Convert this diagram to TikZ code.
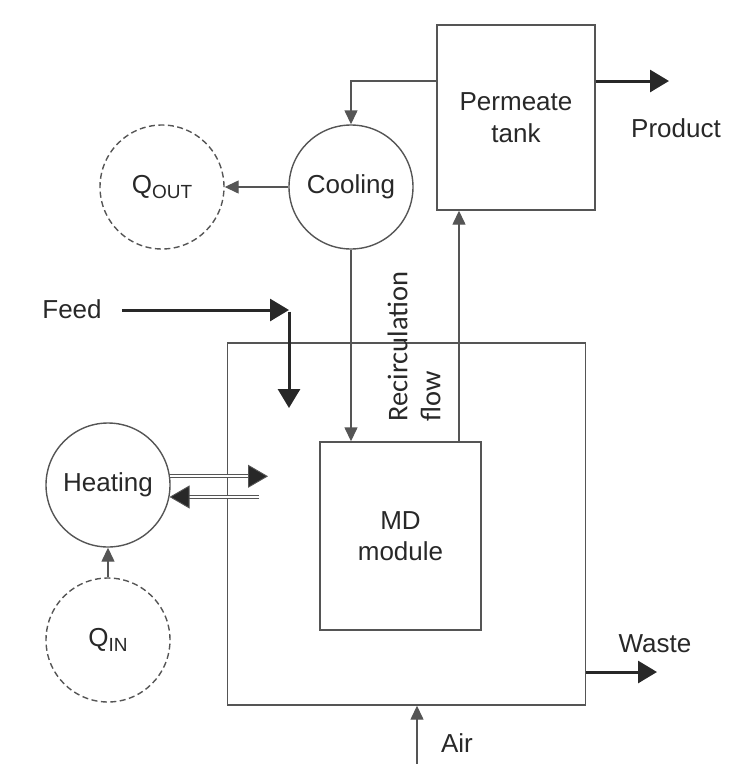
\documentclass[tikz,border=0pt]{standalone}
\usepackage{fontspec}
\setmainfont{Liberation Sans}
\newfontfamily\recfont{Carlito}
\usetikzlibrary{arrows.meta}
\definecolor{linegray}{RGB}{85,85,85}
\definecolor{inkgray}{RGB}{40,40,40}
\newcommand{\qsub}[1]{Q\raisebox{-5pt}{\fontsize{19}{19}\selectfont #1}}

\begin{document}
\begin{tikzpicture}[x=1pt,y=-1pt,
  lbl/.style={font=\fontsize{26}{31.5}\selectfont, text=inkgray, align=center, inner sep=0pt},
  unit/.style={draw=linegray, line width=1.4pt, circle, minimum size=124pt, inner sep=0pt, lbl},
  heatsrc/.style={unit, dash pattern=on 6pt off 3.5pt},
  vessel/.style={draw=linegray, line width=1.4pt, inner sep=0pt, lbl},
  flow/.style={draw=linegray, line width=1.4pt, -{Triangle[length=14pt,width=13pt]}},
  mainflow/.style={draw=inkgray, line width=3pt, -{Triangle[length=19pt,width=22pt]}},
  heatflow/.style={draw=linegray, line width=0.9pt, double distance=2.2pt,
    -{Triangle[length=20pt,width=23pt,fill=inkgray]}}]
  \useasboundingbox (0,0) rectangle (729,764);

  % boxes
  \node[vessel, minimum width=158pt, minimum height=185pt] (tank) at (516,117.5) {Permeate\\tank};
  \node[vessel, minimum width=358pt, minimum height=362pt] (plant) at (406.5,524) {};
  \node[vessel, minimum width=161pt, minimum height=188pt, fill=white] (md) at (400.5,536) {MD\\module};

  % circles
  \node[unit] (cool) at (351,187) {Cooling};
  \node[heatsrc] (qout) at (162,187) {\qsub{OUT}};
  \node[unit] (heat) at (108,485) {Heating};
  \node[heatsrc] (qin) at (108,640) {\qsub{IN}};

  % labels
  \node[lbl] (feed) at (72,309) {Feed};
  \node[lbl] (prodlbl) at (676,128) {Product};
  \node[lbl] (wastelbl) at (655,644) {Waste};
  \node[lbl] (airlbl) at (457,743) {Air};
  \node[font=\recfont\fontsize{28.5}{33}\selectfont, text=inkgray, rotate=90, align=left, inner sep=0pt]
    (recirc) at (414,346.5) {Recirculation\\flow};

  % free ends
  \coordinate (r1) at (0,81);
  \coordinate (rc) at (459,0);
  \coordinate (pr) at (669,81);
  \coordinate (fd) at (289,310);
  \coordinate (fdown) at (289,408);
  \coordinate (hr) at (268,0);
  \coordinate (hl) at (259,0);
  \coordinate (air0) at (417,764);
  \coordinate (ws) at (657,672);

  % connectors
  \draw[flow] (tank.west |- r1) -| (cool.north);
  \draw[flow] (cool.west) -- (qout.east);
  \draw[flow] (cool.south) -- (cool.south |- md.north);
  \draw[flow] (md.north -| rc) -- (tank.south -| rc);
  \draw[mainflow] (tank.east |- pr) -- (pr);
  \draw[mainflow] ([xshift=20pt]feed.east |- fd) -- (fd);
  \draw[mainflow] ([yshift=-1.5pt]fd) -- (fdown);
  \draw[heatflow] (heat.8) -- (heat.8 -| hr);
  \draw[heatflow] (heat.-11 -| hl) -- (heat.-11);
  \draw[flow] (qin.north) -- (heat.south);
  \draw[flow] (air0) -- (air0 |- plant.south);
  \draw[mainflow] (plant.east |- ws) -- (ws);
\end{tikzpicture}
\end{document}
